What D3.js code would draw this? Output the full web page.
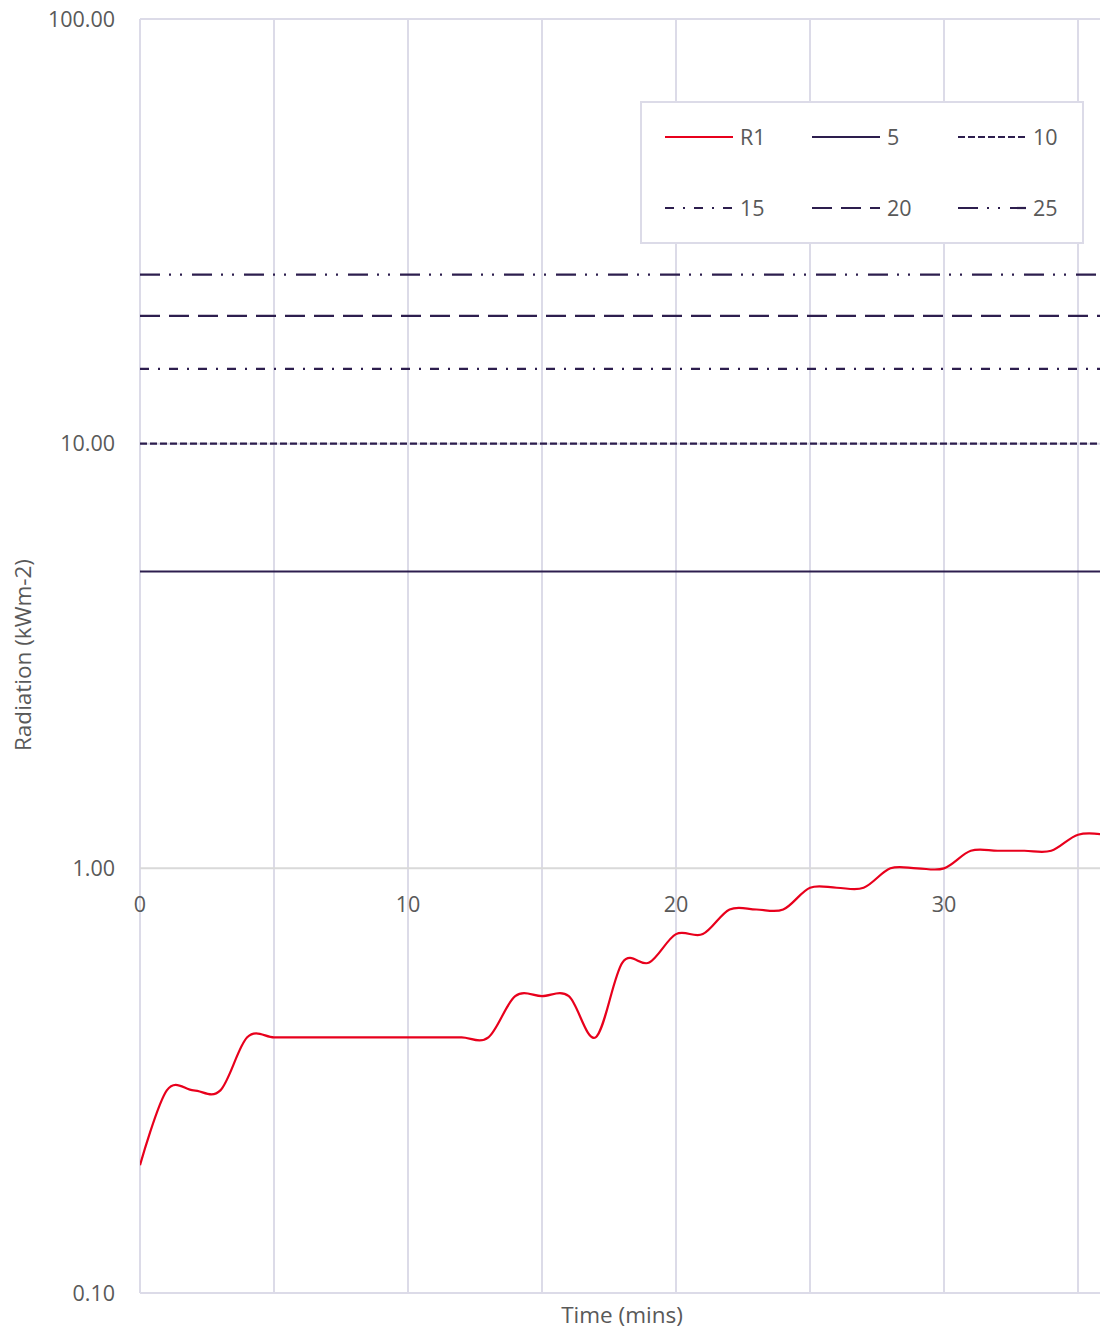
<!DOCTYPE html>
<html>
<head>
<meta charset="utf-8">
<script src="https://cdn.jsdelivr.net/npm/d3@7"></script>
<style>
  html, body { margin: 0; padding: 0; background: #fff; }
  svg { display: block; font-family: "Segoe UI", "Open Sans", "Noto Sans", sans-serif; }
</style>
</head>
<body>
<svg id="chart" width="1100" height="1331"></svg>
<script>
// Measured radiation, one reading per minute
const times = [0,1,2,3,4,5,6,7,8,9,10,11,12,13,14,15,16,17,18,19,20,21,22,23,24,25,26,27,28,29,30,31,32,33,34,35,36];
const r1 = [0.2,0.3,0.3,0.3,0.4,0.4,0.4,0.4,0.4,0.4,0.4,0.4,0.4,0.4,0.5,0.5,0.5,0.4,0.6,0.6,0.7,0.7,0.8,0.8,0.8,0.9,0.9,0.9,1.0,1.0,1.0,1.1,1.1,1.1,1.1,1.2,1.2];

// Constant reference levels (kWm-2) and their dash styles
const refLevels = [5, 10, 15, 20, 25];
const refDashes = ["none", "7,3", "9,9,2,9", "20,9", "20,9,2,9,2,10"];

const yTicks = [0.1, 1, 10, 100];
const xTicks = [0, 10, 20, 30];
const xGrid = [0, 5, 10, 15, 20, 25, 30, 35];

(function draw() {
  const plotLeft = 140, plotRight = 1100, plotTop = 19, plotBottom = 1293;

  const svg = d3.select("#chart");
  const x = d3.scaleLinear().domain([0, 35.82]).range([plotLeft, plotRight]);
  const y = d3.scaleLog().domain([0.1, 100]).range([plotBottom, plotTop]);

  const gridColor = "#dcdbe8";
  const refColor = "#2d1e4e";
  const textColor = "#595959";
  const tickSize = 21.5;
  const titleSize = 22.5;

  svg.append("defs").append("clipPath").attr("id", "plotClip")
    .append("rect").attr("x", plotLeft).attr("y", plotTop - 2)
    .attr("width", plotRight - plotLeft).attr("height", plotBottom - plotTop + 4);

  // vertical gridlines
  svg.append("g").selectAll("line").data(xGrid).join("line")
    .attr("x1", d => x(d)).attr("x2", d => x(d))
    .attr("y1", plotTop).attr("y2", plotBottom)
    .attr("stroke", gridColor).attr("stroke-width", 2);

  // horizontal gridlines at decades
  svg.append("g").selectAll("line").data([0.1, 10, 100]).join("line")
    .attr("x1", plotLeft).attr("x2", plotRight)
    .attr("y1", d => y(d)).attr("y2", d => y(d))
    .attr("stroke", gridColor).attr("stroke-width", 2);

  // horizontal axis crosses at 1.00
  svg.append("line")
    .attr("x1", plotLeft).attr("x2", plotRight)
    .attr("y1", y(1)).attr("y2", y(1))
    .attr("stroke", "#d9d9d9").attr("stroke-width", 2);

  // y tick labels
  svg.append("g").selectAll("text").data(yTicks).join("text")
    .attr("x", 115).attr("y", d => y(d))
    .attr("dy", "0.35em")
    .attr("text-anchor", "end")
    .attr("font-size", tickSize).attr("fill", textColor)
    .text(d => d3.format(".2f")(d));

  // x tick labels, sitting under the 1.00 axis line
  svg.append("g").selectAll("text").data(xTicks).join("text")
    .attr("x", d => x(d)).attr("y", y(1) + 36)
    .attr("dy", "0.35em")
    .attr("text-anchor", "middle")
    .attr("font-size", tickSize).attr("fill", textColor)
    .text(d => d);

  // axis titles
  svg.append("text")
    .attr("transform", `translate(31,${(plotTop + plotBottom) / 2 - 1}) rotate(-90)`)
    .attr("text-anchor", "middle")
    .attr("font-size", titleSize).attr("fill", textColor)
    .text("Radiation (kWm-2)");

  svg.append("text")
    .attr("x", 622).attr("y", 1315).attr("dy", "0.35em")
    .attr("text-anchor", "middle")
    .attr("font-size", titleSize).attr("fill", textColor)
    .text("Time (mins)");

  const plot = svg.append("g").attr("clip-path", "url(#plotClip)");

  // reference levels
  plot.selectAll("line.ref").data(refLevels).join("line")
    .attr("class", "ref")
    .attr("x1", plotLeft).attr("x2", plotRight)
    .attr("y1", d => y(d)).attr("y2", d => y(d))
    .attr("stroke", refColor).attr("stroke-width", 2.2)
    .attr("stroke-dasharray", (d, i) => refDashes[i] === "none" ? null : refDashes[i]);

  // R1 smoothed line
  const line = d3.line()
    .x((d, i) => x(times[i]))
    .y(d => y(d))
    .curve(d3.curveCardinal.tension(0));

  plot.append("path")
    .datum(r1)
    .attr("d", line)
    .attr("fill", "none")
    .attr("stroke", "#e8001c")
    .attr("stroke-width", 2.2);

  // legend
  const lg = svg.append("g");
  lg.append("rect")
    .attr("x", 641).attr("y", 102).attr("width", 442).attr("height", 141)
    .attr("fill", "#fff").attr("stroke", gridColor).attr("stroke-width", 2);

  const legendItems = [
    { label: "R1", color: "#e8001c", dash: "none" },
    ...refLevels.map((v, i) => ({ label: String(v), color: refColor, dash: refDashes[i] }))
  ];
  const colX = [665, 812, 958];
  const rowY = [137, 208];
  legendItems.forEach((it, i) => {
    const cx = colX[i % 3], cy = rowY[Math.floor(i / 3)];
    lg.append("line")
      .attr("x1", cx).attr("x2", cx + 68)
      .attr("y1", cy).attr("y2", cy)
      .attr("stroke", it.color).attr("stroke-width", 2.2)
      .attr("stroke-dasharray", it.dash === "none" ? null : it.dash);
    lg.append("text")
      .attr("x", cx + 75).attr("y", cy).attr("dy", "0.35em")
      .attr("font-size", tickSize).attr("fill", textColor)
      .text(it.label);
  });
})();
</script>
</body>
</html>
